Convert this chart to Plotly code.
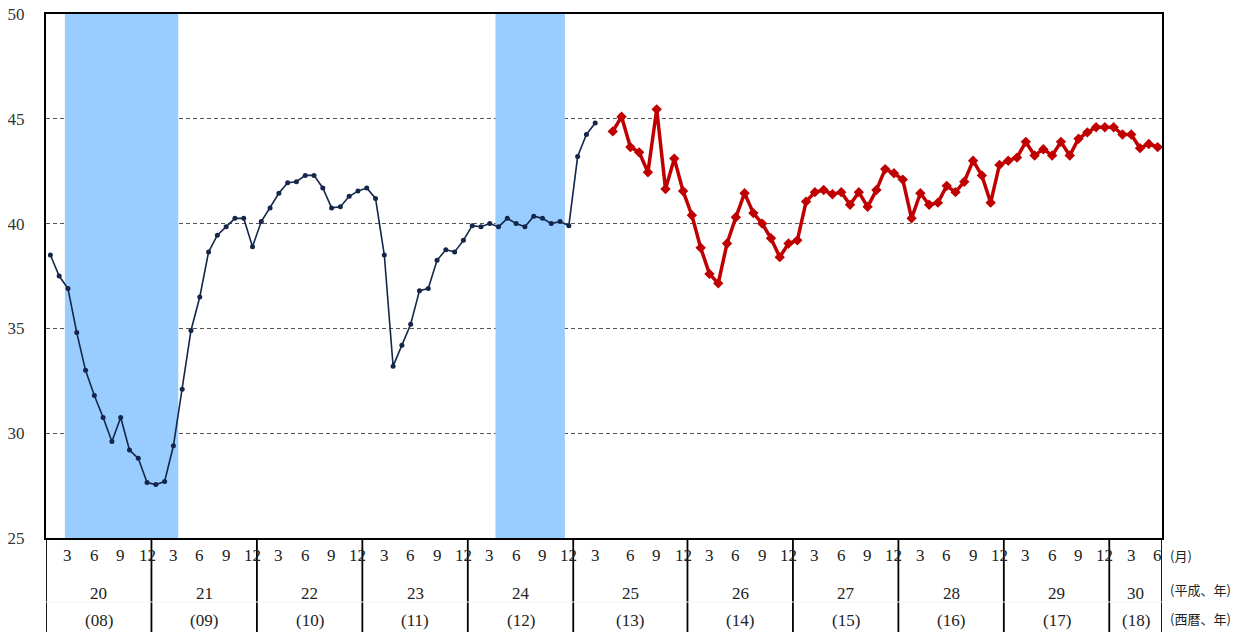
import plotly.graph_objects as go

# ---- data ----
navy_start = (2008, 1)
navy_values = [
    38.5, 37.5, 36.9, 34.8, 33.0, 31.8, 30.75, 29.6, 30.75, 29.2, 28.8, 27.65,
    27.55, 27.7, 29.4, 32.1, 34.9, 36.5, 38.65, 39.45, 39.85, 40.25, 40.25, 38.9,
    40.1, 40.75, 41.45, 41.95, 42.0, 42.3, 42.3, 41.7, 40.75, 40.8, 41.3, 41.55,
    41.7, 41.2, 38.5, 33.2, 34.2, 35.2, 36.8, 36.9, 38.25, 38.75, 38.65, 39.2,
    39.9, 39.85, 40.0, 39.85, 40.25, 40.0, 39.85, 40.35, 40.25, 40.0, 40.1, 39.9,
    43.2, 44.25, 44.8,
]
red_start = (2013, 4)
red_values = [
    44.4, 45.1, 43.65, 43.4, 42.45, 45.45, 41.65, 43.1, 41.55,
    40.4, 38.85, 37.6, 37.15, 39.05, 40.3, 41.45, 40.5, 40.0, 39.3, 38.4, 39.05,
    39.2, 41.05, 41.5, 41.6, 41.4, 41.5, 40.9, 41.5, 40.8, 41.6, 42.6, 42.4,
    42.1, 40.25, 41.45, 40.9, 41.0, 41.8, 41.5, 42.0, 43.0, 42.3, 41.0, 42.8,
    43.0, 43.15, 43.9, 43.25, 43.55, 43.25, 43.9, 43.25, 44.05, 44.35, 44.6, 44.6,
    44.6, 44.25, 44.25, 43.6, 43.8, 43.65,
]
years = [2008, 2009, 2010, 2011, 2012, 2013, 2014, 2015, 2016, 2017, 2018]
heisei_labels = ["20", "21", "22", "23", "24", "25", "26", "27", "28", "29", "30"]
seireki_labels = ["(08)", "(09)", "(10)", "(11)", "(12)", "(13)", "(14)", "(15)", "(16)", "(17)", "(18)"]
month_ticks = [3, 6, 9, 12]
end_period = (2018, 6)
# (peak, trough) of shaded periods
shade_periods = [((2008, 2), (2009, 3)), ((2012, 3), (2012, 11))]
right_labels = ["(月)", "(平成、年)", "(西暦、年)"]
y_ticks = [25, 30, 35, 40, 45, 50]

# series break: one empty slot between Mar 2013 and Apr 2013
BREAK = (2013, 4)


def slot(y, m):
    k = (y - 2008) * 12 + (m - 1)
    if (y, m) >= BREAK:
        k += 1
    return k


def months_from(start, n):
    y, m = start
    out = []
    for _ in range(n):
        out.append((y, m))
        m += 1
        if m > 12:
            m = 1
            y += 1
    return out


navy_x = [slot(y, m) for y, m in months_from(navy_start, len(navy_values))]
red_x = [slot(y, m) for y, m in months_from(red_start, len(red_values))]
x_max = slot(*end_period)

SERIF = "Liberation Serif, Times New Roman, serif"
CJK = "Noto Sans CJK JP, sans-serif"

fig = go.Figure()
fig.add_trace(go.Scatter(
    x=navy_x, y=navy_values, mode="lines+markers",
    line=dict(color="#14264a", width=1.6),
    marker=dict(symbol="circle", size=5, color="#14264a"),
    showlegend=False))
fig.add_trace(go.Scatter(
    x=red_x, y=red_values, mode="lines+markers",
    line=dict(color="#c00000", width=3.5),
    marker=dict(symbol="diamond", size=8, color="#c00000"),
    showlegend=False))

shapes = []
# recession shading
for (a, b) in shade_periods:
    shapes.append(dict(type="rect", xref="x", yref="y",
                       x0=slot(*a) + 0.65, x1=slot(*b) + 0.55, y0=25, y1=50,
                       fillcolor="#99ccff", line=dict(width=0), layer="between"))

H = 524.0
lab_bottom = -104.0 / H
# year separators in label area
seps = [-0.5]
for yr in years[1:]:
    seps.append(slot(yr, 1) - 0.5)
seps.append(x_max + 0.5)
for s in seps:
    shapes.append(dict(type="line", xref="x", yref="paper", x0=s, x1=s,
                       y0=0, y1=lab_bottom, line=dict(color="black", width=1.8)))
# faint row line
shapes.append(dict(type="line", xref="x", yref="paper", x0=-0.5, x1=x_max + 0.5,
                   y0=-64.0 / H, y1=-64.0 / H, line=dict(color="#f0f0f0", width=1)))

annotations = []
y_month = -17.5 / H
y_heisei = -55.0 / H
y_seireki = -82.5 / H
for yr in years:
    for mt in month_ticks:
        if (yr, mt) <= end_period:
            annotations.append(dict(x=slot(yr, mt), y=y_month, xref="x", yref="paper",
                                    text=str(mt), showarrow=False,
                                    font=dict(family=SERIF, size=17, color="#222"),
                                    xanchor="center", yanchor="middle"))
for i, yr in enumerate(years):
    last_m = 12 if yr < end_period[0] else end_period[1]
    cx = (slot(yr, 1) - 0.5 + slot(yr, last_m) + 0.5) / 2
    annotations.append(dict(x=cx, y=y_heisei, xref="x", yref="paper",
                            text=heisei_labels[i], showarrow=False,
                            font=dict(family=SERIF, size=17, color="#222"),
                            xanchor="center", yanchor="middle"))
    annotations.append(dict(x=cx, y=y_seireki, xref="x", yref="paper",
                            text=seireki_labels[i], showarrow=False,
                            font=dict(family=SERIF, size=17, color="#222"),
                            xanchor="center", yanchor="middle"))
for yy, t in zip([y_month, y_heisei + 4 / H, y_seireki + 2 / H], right_labels):
    annotations.append(dict(x=1.005, y=yy, xref="paper", yref="paper", text=t,
                            showarrow=False, font=dict(family=CJK, size=13, color="#222"),
                            xanchor="left", yanchor="middle"))

# the page body adds an ~8px offset; compensate so the plot area lands at (45,12)-(1161,536)
fig.update_layout(
    width=1254, height=632,
    margin=dict(l=38, r=100, t=6, b=102, autoexpand=False),
    paper_bgcolor="white", plot_bgcolor="white",
    shapes=shapes, annotations=annotations,
    xaxis=dict(range=[-0.5, x_max + 0.5], showticklabels=False, ticks="",
               showgrid=False, zeroline=False, showline=True, mirror=True,
               linecolor="black", linewidth=2, automargin=False),
    yaxis=dict(range=[25, 50], tickvals=y_ticks,
               ticks="", showgrid=True, gridcolor="#555", griddash="4px,3px",
               gridwidth=1.3, zeroline=False, showline=True, mirror=True,
               linecolor="black", linewidth=2, ticklabelstandoff=16,
               ticklabeloverflow="allow", automargin=False,
               tickfont=dict(family=SERIF, size=17, color="#333")),
)

fig.write_html("out.html")
